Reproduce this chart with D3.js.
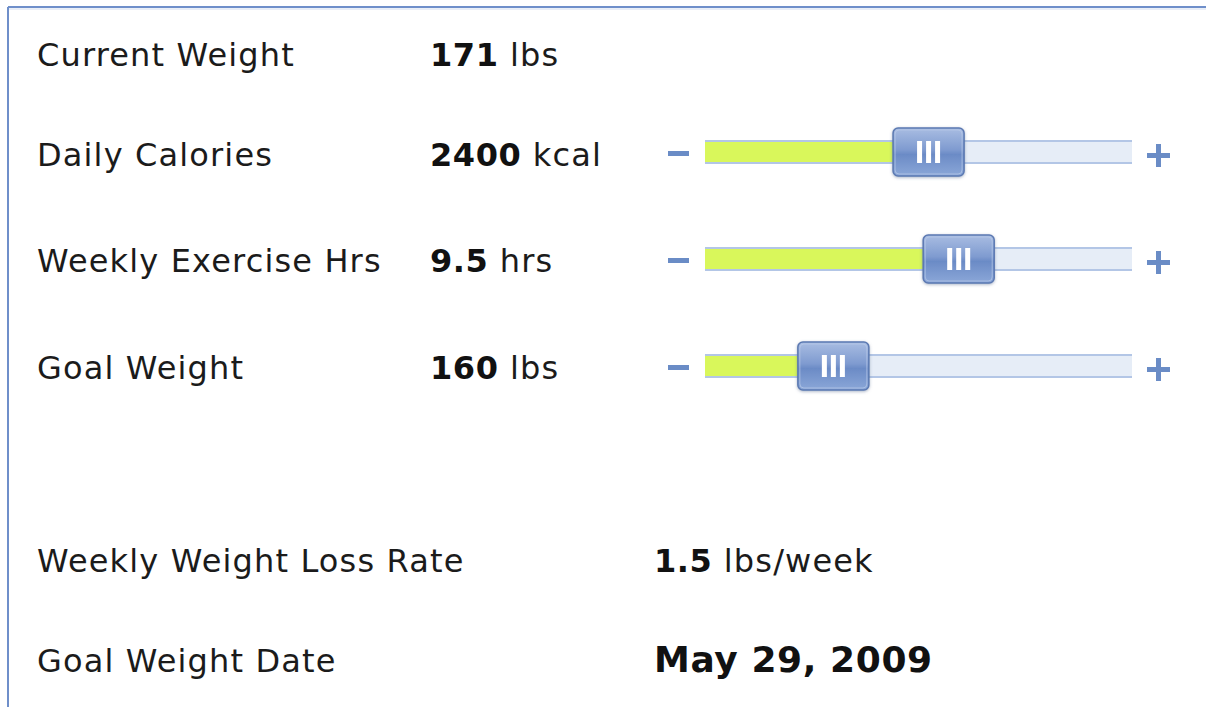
<!DOCTYPE html>
<meta charset="utf-8">
<style>
  body {
    margin: 0;
    background: #fff;
    font-family: "DejaVu Sans", Verdana, sans-serif;
  }
  svg { display: block; }
  .lbl { font-size: 32px; fill: #1b1b1b; letter-spacing: 1.15px; }
  .val { font-size: 32px; fill: #111; font-weight: bold; letter-spacing: 0.6px; }
  .unit { font-weight: normal; fill: #1b1b1b; letter-spacing: 1.15px; }
</style>
<body>
<svg id="chart" width="1206" height="707"></svg>
<script src="https://cdn.jsdelivr.net/npm/d3@7/dist/d3.min.js"></script>
<script>
  // input rows
  const inputLabels = ["Current Weight", "Daily Calories", "Weekly Exercise Hrs", "Goal Weight"];
  const inputValues = ["171", "2400", "9.5", "160"];
  const inputUnits = ["lbs", "kcal", "hrs", "lbs"];

  // sliders (value and range)
  const sliderValues = [2400, 9.5, 160];
  const sliderDomains = [[1000, 3650], [0, 15.5], [130, 245]];

  // results
  const resultLabels = ["Weekly Weight Loss Rate", "Goal Weight Date"];
  const resultValues = ["1.5", "May 29, 2009"];
  const resultUnits = ["lbs/week", ""];

  const svg = d3.select("#chart");
  const defs = svg.append("defs");

  const thumbGrad = defs.append("linearGradient")
    .attr("id", "thumbGrad").attr("x1", 0).attr("y1", 0).attr("x2", 0).attr("y2", 1);
  thumbGrad.append("stop").attr("offset", "0%").attr("stop-color", "#a9bde2");
  thumbGrad.append("stop").attr("offset", "45%").attr("stop-color", "#7f9bd0");
  thumbGrad.append("stop").attr("offset", "55%").attr("stop-color", "#6b8bc6");
  thumbGrad.append("stop").attr("offset", "100%").attr("stop-color", "#8ba7d8");

  const shadow = defs.append("filter").attr("id", "sh")
    .attr("x", "-20%").attr("y", "-20%").attr("width", "140%").attr("height", "140%");
  shadow.append("feDropShadow").attr("dx", 0).attr("dy", 1).attr("stdDeviation", 1.5)
    .attr("flood-color", "#5a6e90").attr("flood-opacity", 0.5);

  // frame (only top and left edges show)
  svg.append("line").attr("x1", 8).attr("x2", 1206).attr("y1", 7).attr("y2", 7)
    .attr("stroke", "#6f8fca").attr("stroke-width", 2);
  svg.append("line").attr("x1", 8).attr("x2", 8).attr("y1", 7).attr("y2", 707)
    .attr("stroke", "#6f8fca").attr("stroke-width", 2);
  svg.append("line").attr("x1", 9).attr("x2", 1206).attr("y1", 9).attr("y2", 9)
    .attr("stroke", "#d4def0").attr("stroke-width", 1);

  const rowBase = [66, 166, 272, 379];

  const rows = svg.append("g").selectAll("g")
    .data(inputLabels.map((l, i) => ({ label: l, value: inputValues[i], unit: inputUnits[i], i })))
    .join("g")
    .attr("transform", d => `translate(0,${rowBase[d.i]})`);

  rows.append("text").attr("class", "lbl").attr("x", 37).text(d => d.label);
  const vt = rows.append("text").attr("class", "val").attr("x", 430);
  vt.append("tspan").text(d => d.value);
  vt.append("tspan").attr("class", "unit").text(d => " " + d.unit);

  // sliders
  const trackX0 = 705, trackX1 = 1132, thumbW = 71, thumbH = 48, trackH = 24;
  const sliderCY = [152, 259, 366];

  const sliders = svg.append("g").selectAll("g")
    .data(sliderValues.map((v, k) => ({ v, k, dom: sliderDomains[k] })))
    .join("g")
    .attr("transform", d => `translate(0,${sliderCY[d.k]})`);

  sliders.each(function (d) {
    const g = d3.select(this);
    const x = d3.scaleLinear().domain(d.dom)
      .range([trackX0 + thumbW / 2, trackX1 - thumbW / 2]);
    const cx = x(d.v);

    // track
    g.append("rect").attr("x", trackX0).attr("y", -trackH / 2)
      .attr("width", trackX1 - trackX0).attr("height", trackH)
      .attr("fill", "#e6edf7");
    g.append("rect").attr("x", trackX0).attr("y", -trackH / 2)
      .attr("width", cx - trackX0).attr("height", trackH)
      .attr("fill", "#d9f75b");
    [-trackH / 2, trackH / 2 - 2].forEach(yy => {
      g.append("rect").attr("x", trackX0).attr("y", yy)
        .attr("width", trackX1 - trackX0).attr("height", 2)
        .attr("fill", "#b3c6e6");
    });

    // minus / plus
    g.append("rect").attr("x", 668).attr("y", -1).attr("width", 21).attr("height", 5)
      .attr("fill", "#6a8cc6");
    g.append("rect").attr("x", 1147).attr("y", 1).attr("width", 23).attr("height", 5)
      .attr("fill", "#6a8cc6");
    g.append("rect").attr("x", 1156).attr("y", -8).attr("width", 5).attr("height", 23)
      .attr("fill", "#6a8cc6");

    // thumb
    const t = g.append("g").attr("transform", `translate(${cx - thumbW / 2},${-thumbH / 2})`);
    t.append("rect").attr("width", thumbW).attr("height", thumbH).attr("rx", 5)
      .attr("fill", "url(#thumbGrad)").attr("stroke", "#5b79b2").attr("stroke-width", 1.5)
      .attr("filter", "url(#sh)");
    t.append("rect").attr("x", 2).attr("y", 2).attr("width", thumbW - 4).attr("height", thumbH - 4)
      .attr("rx", 4).attr("fill", "none").attr("stroke", "#b9cae8").attr("stroke-width", 1)
      .attr("opacity", 0.7);
    [-9, 0, 9].forEach(dx => {
      t.append("rect").attr("x", thumbW / 2 + dx - 2.5).attr("y", 13)
        .attr("width", 5).attr("height", 22).attr("fill", "#fff");
    });
  });

  // results
  const resY = [572, 672];
  const res = svg.append("g").selectAll("g")
    .data(resultLabels.map((l, i) => ({ label: l, value: resultValues[i], unit: resultUnits[i], i })))
    .join("g")
    .attr("transform", d => `translate(0,${resY[d.i]})`);
  res.append("text").attr("class", "lbl").attr("x", 37).text(d => d.label);
  const rv = res.append("text").attr("class", "val").attr("x", 654)
    .style("font-size", d => d.unit ? "32px" : "36px");
  rv.append("tspan").text(d => d.value);
  rv.append("tspan").attr("class", "unit").text(d => d.unit ? " " + d.unit : "");
</script>
</body>
